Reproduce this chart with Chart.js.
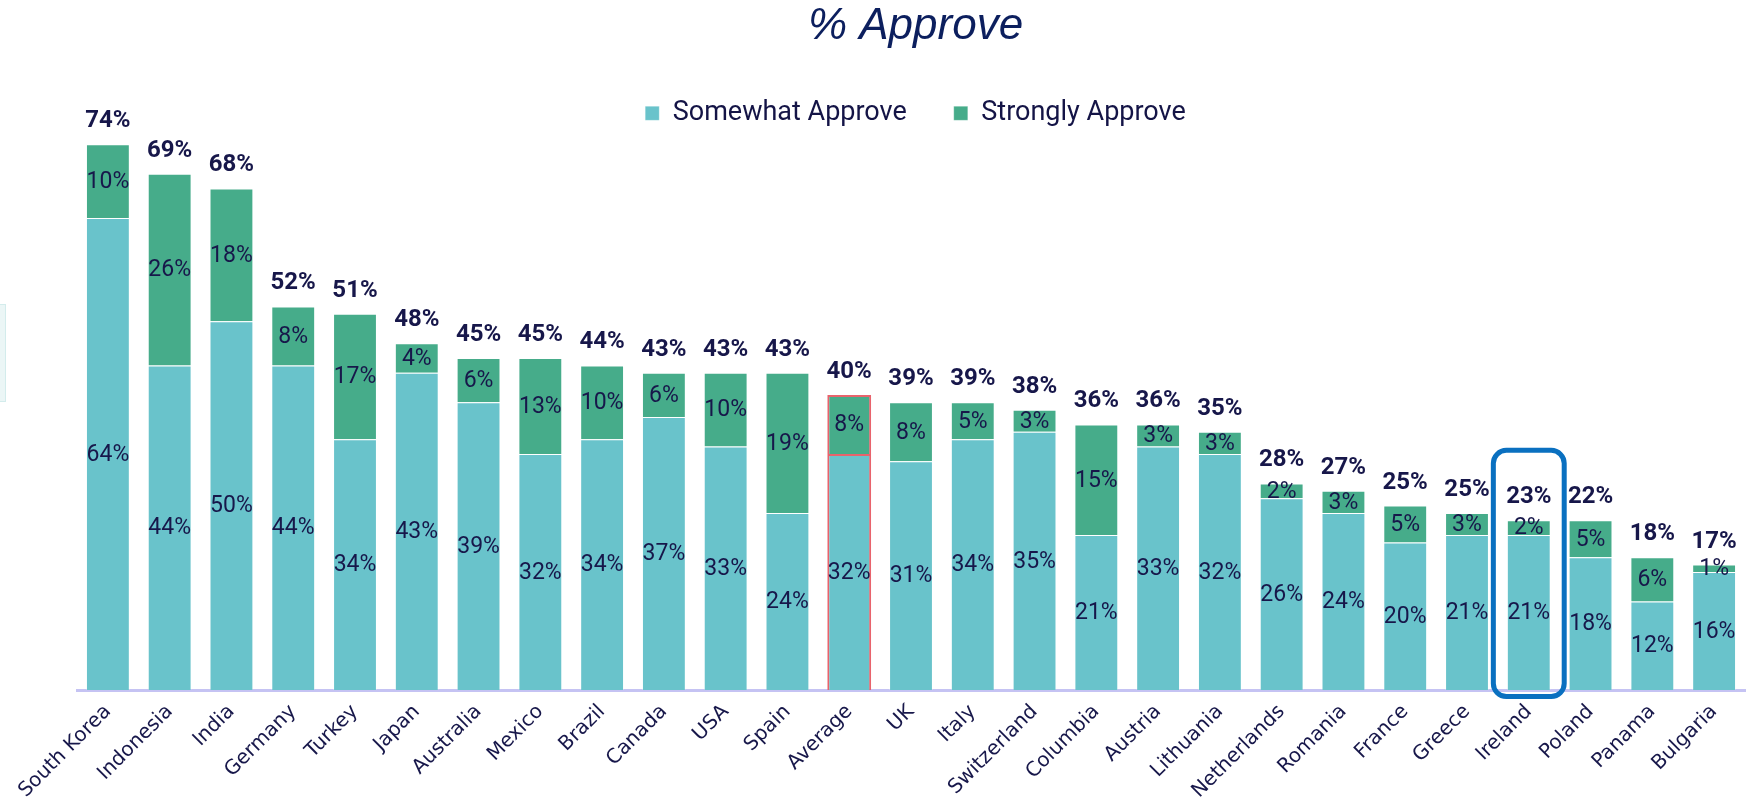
<!DOCTYPE html>
<html>
<head>
<meta charset="utf-8">
<title>% Approve</title>
<script src="https://cdn.jsdelivr.net/npm/chart.js@4.4.1/dist/chart.umd.min.js"></script>
<style>
    body { margin: 0; background: #ffffff; }
    .wrap { position: relative; width: 1754px; height: 803px; }
    .edge-box { position: absolute; left: 0; top: 304px; width: 5px; height: 96px; background: #ebf6f6; border: 1px solid #d3ecec; border-left: none; }
</style>
</head>
<body>
<div class="wrap">
    <canvas id="approveChart"></canvas>
    <div class="edge-box"></div>
</div>
<script>
// Chart data
const countries = ['South Korea', 'Indonesia', 'India', 'Germany', 'Turkey', 'Japan', 'Australia', 'Mexico', 'Brazil',
    'Canada', 'USA', 'Spain', 'Average', 'UK', 'Italy', 'Switzerland', 'Columbia', 'Austria', 'Lithuania',
    'Netherlands', 'Romania', 'France', 'Greece', 'Ireland', 'Poland', 'Panama', 'Bulgaria'];
const somewhatApprove = [64, 44, 50, 44, 34, 43, 39, 32, 34, 37, 33, 24, 32, 31, 34, 35, 21, 33, 32, 26, 24, 20, 21, 21, 18, 12, 16];
const stronglyApprove = [10, 26, 18, 8, 17, 4, 6, 13, 10, 6, 10, 19, 8, 8, 5, 3, 15, 3, 3, 2, 3, 5, 3, 2, 5, 6, 1];
const totalApprove = [74, 69, 68, 52, 51, 48, 45, 45, 44, 43, 43, 43, 40, 39, 39, 38, 36, 36, 35, 28, 27, 25, 25, 23, 22, 18, 17];

const averageIndex = countries.indexOf('Average');
const highlightIndex = countries.indexOf('Ireland');
const labelColor = '#17174a';

Chart.defaults.font.family = 'Roboto';

const borderFor = (fallback) => ctx => ctx.dataIndex === averageIndex ? '#e8636c' : fallback;
const borderWidthFor = ctx => ctx.dataIndex === averageIndex ? 2 : 1;

// Segment values, totals and the highlight frame
const labelPlugin = {
    id: 'barLabels',
    afterDatasetsDraw(chart) {
        const ctx = chart.ctx;
        const y = chart.scales.y;
        ctx.save();
        ctx.fillStyle = labelColor;
        ctx.textAlign = 'center';
        ctx.textBaseline = 'middle';
        ctx.font = '23px Roboto';
        chart.data.datasets.forEach((ds, di) => {
            chart.getDatasetMeta(di).data.forEach((bar, i) => {
                ctx.fillText(ds.data[i] + '%', bar.x, (bar.y + bar.base) / 2 + 1);
            });
        });

        const topMeta = chart.getDatasetMeta(1).data;
        ctx.font = 'bold 24px Roboto';
        ctx.textBaseline = 'alphabetic';
        topMeta.forEach((bar, i) => {
            ctx.fillText(totalApprove[i] + '%', bar.x, bar.y - 17);
        });

        // Ireland frame
        const hb = topMeta[highlightIndex];
        const left = hb.x - hb.width / 2 - 13.5;
        const right = hb.x + hb.width / 2 + 13.5;
        const top = y.getPixelForValue(totalApprove[highlightIndex]) - 70;
        const bottom = y.getPixelForValue(0) + 6.5;
        const r = 13;
        ctx.strokeStyle = '#0a70c0';
        ctx.lineWidth = 5;
        ctx.beginPath();
        ctx.moveTo(left + r, top);
        ctx.arcTo(right, top, right, bottom, r);
        ctx.arcTo(right, bottom, left, bottom, r);
        ctx.arcTo(left, bottom, left, top, r);
        ctx.arcTo(left, top, right, top, r);
        ctx.closePath();
        ctx.stroke();
        ctx.restore();
    }
};

new Chart(document.getElementById('approveChart').getContext('2d'), {
    type: 'bar',
    data: {
        labels: countries,
        datasets: [{
            label: 'Somewhat Approve',
            data: somewhatApprove,
            backgroundColor: '#69c3cb',
            borderColor: borderFor('rgba(255, 255, 255, 0.25)'),
            borderWidth: borderWidthFor,
            stack: 'approve'
        }, {
            label: 'Strongly Approve',
            data: stronglyApprove,
            backgroundColor: '#46ac8a',
            borderColor: borderFor('rgba(255, 255, 255, 0.25)'),
            borderWidth: borderWidthFor,
            stack: 'approve'
        }]
    },
    options: {
        responsive: true,
        maintainAspectRatio: false,
        animation: false,
        layout: { padding: { left: 77, right: 0, top: 0, bottom: 0 } },
        datasets: { bar: { categoryPercentage: 1, barPercentage: 0.71 } },
        plugins: {
            title: {
                display: true,
                text: '% Approve',
                color: '#0c1f5e',
                font: { family: 'Liberation Sans', size: 44, style: 'italic', weight: 'normal' },
                padding: { top: 0, bottom: 0 }
            },
            legend: {
                display: true,
                labels: {
                    color: '#141446',
                    boxWidth: 14,
                    boxHeight: 14,
                    padding: 47,
                    font: { family: 'Roboto', size: 27 }
                }
            },
            tooltip: { enabled: false }
        },
        scales: {
            x: {
                stacked: true,
                grid: { display: false },
                border: { display: true, color: '#c5c3f3', width: 3 },
                ticks: {
                    color: labelColor,
                    minRotation: 45,
                    maxRotation: 45,
                    autoSkip: false,
                    padding: 2,
                    font: { family: 'DejaVu Sans', size: 20 }
                },
                afterFit(scale) { scale.height = 113; }
            },
            y: {
                stacked: true,
                position: 'right',
                min: 0,
                max: 75,
                grid: { display: false },
                border: { display: false },
                ticks: { display: false },
                afterFit(scale) { scale.width = 9; }
            }
        }
    },
    plugins: [labelPlugin]
});
</script>
</body>
</html>
